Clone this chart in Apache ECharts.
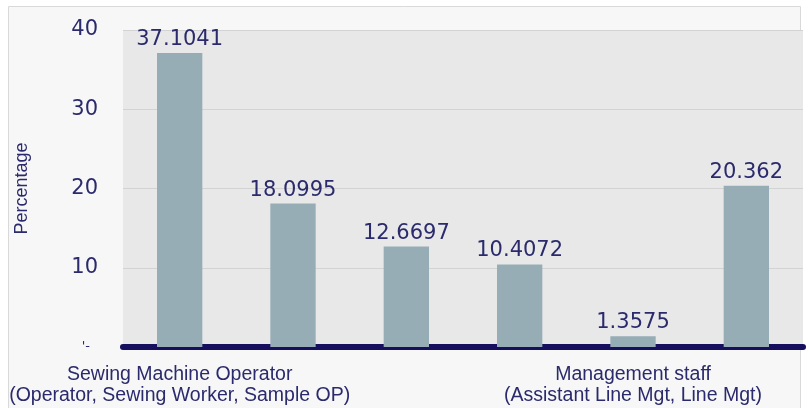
<!DOCTYPE html>
<html>
<head>
<meta charset="utf-8">
<script src="https://cdn.jsdelivr.net/npm/echarts@6/dist/echarts.min.js"></script>
<style>
    html, body { margin: 0; padding: 0; background: #ffffff; }
    #plot { width: 809px; height: 408px; }
</style>
</head>
<body>
<div id="plot"></div>
<script>
// 数据
const categories = ['SMO-1', 'SMO-2', 'SMO-3', 'MGT-1', 'MGT-2', 'MGT-3'];
const categoryLabels = [
    'Sewing Machine Operator\n(Operator, Sewing Worker, Sample OP)',
    '', '', '',
    'Management staff\n(Assistant Line Mgt, Line Mgt)',
    ''
];
const percentages = [37.1041, 18.0995, 12.6697, 10.4072, 1.3575, 20.362];
const yTicks = [0, 10, 20, 30, 40];

const navy = '#2a2a6c';

let chart = echarts.init(document.getElementById('plot'));

let option = {
    animation: false,
    backgroundColor: '#ffffff',
    graphic: [
        {
            type: 'rect',
            z: -10,
            shape: {x: 8.5, y: 6.5, width: 792, height: 420},
            style: {fill: '#f7f7f7', stroke: '#d9d9d9', lineWidth: 1}
        }
    ],
    grid: {
        left: 123,
        right: 6,
        top: 30,
        bottom: 61,
        outerBoundsMode: 'none',
        containLabel: false,
        show: true,
        backgroundColor: '#e8e8e8',
        borderWidth: 0
    },
    xAxis: {
        type: 'category',
        data: categories,
        axisTick: {show: false},
        axisLine: {
            show: true,
            lineStyle: {color: '#160f5e', width: 6}
        },
        axisLabel: {
            interval: 0,
            margin: 17,
            color: navy,
            fontFamily: 'Liberation Sans',
            fontSize: 19.5,
            lineHeight: 21,
            formatter: function (value, index) {
                return categoryLabels[index];
            }
        }
    },
    yAxis: {
        type: 'value',
        min: yTicks[0],
        max: yTicks[yTicks.length - 1],
        interval: 10,
        name: 'Percentage',
        nameLocation: 'middle',
        nameGap: 92,
        nameRotate: 90,
        nameTextStyle: {
            color: navy,
            fontFamily: 'Liberation Sans',
            fontSize: 18
        },
        axisLine: {show: false},
        axisTick: {show: false},
        splitLine: {lineStyle: {color: '#d3d3d3', width: 1}},
        axisLabel: {
            margin: 25,
            color: navy,
            fontFamily: 'DejaVu Sans',
            fontSize: 21,
            formatter: function (v) {
                // 原图零点处是一个小记号
                return v === 0 ? '{s|\'-}' : String(v);
            },
            rich: {
                s: {fontSize: 13, color: navy, fontFamily: 'DejaVu Sans', padding: [0, 8, 0, 0]}
            }
        }
    },
    series: [
        {
            type: 'bar',
            data: percentages,
            barWidth: '40%',
            itemStyle: {color: '#97adb6'},
            label: {
                show: true,
                position: 'top',
                distance: 3,
                color: navy,
                fontFamily: 'DejaVu Sans',
                fontSize: 21,
                formatter: function (p) {
                    return String(p.value);
                }
            }
        }
    ]
};

chart.setOption(option);
</script>
</body>
</html>
